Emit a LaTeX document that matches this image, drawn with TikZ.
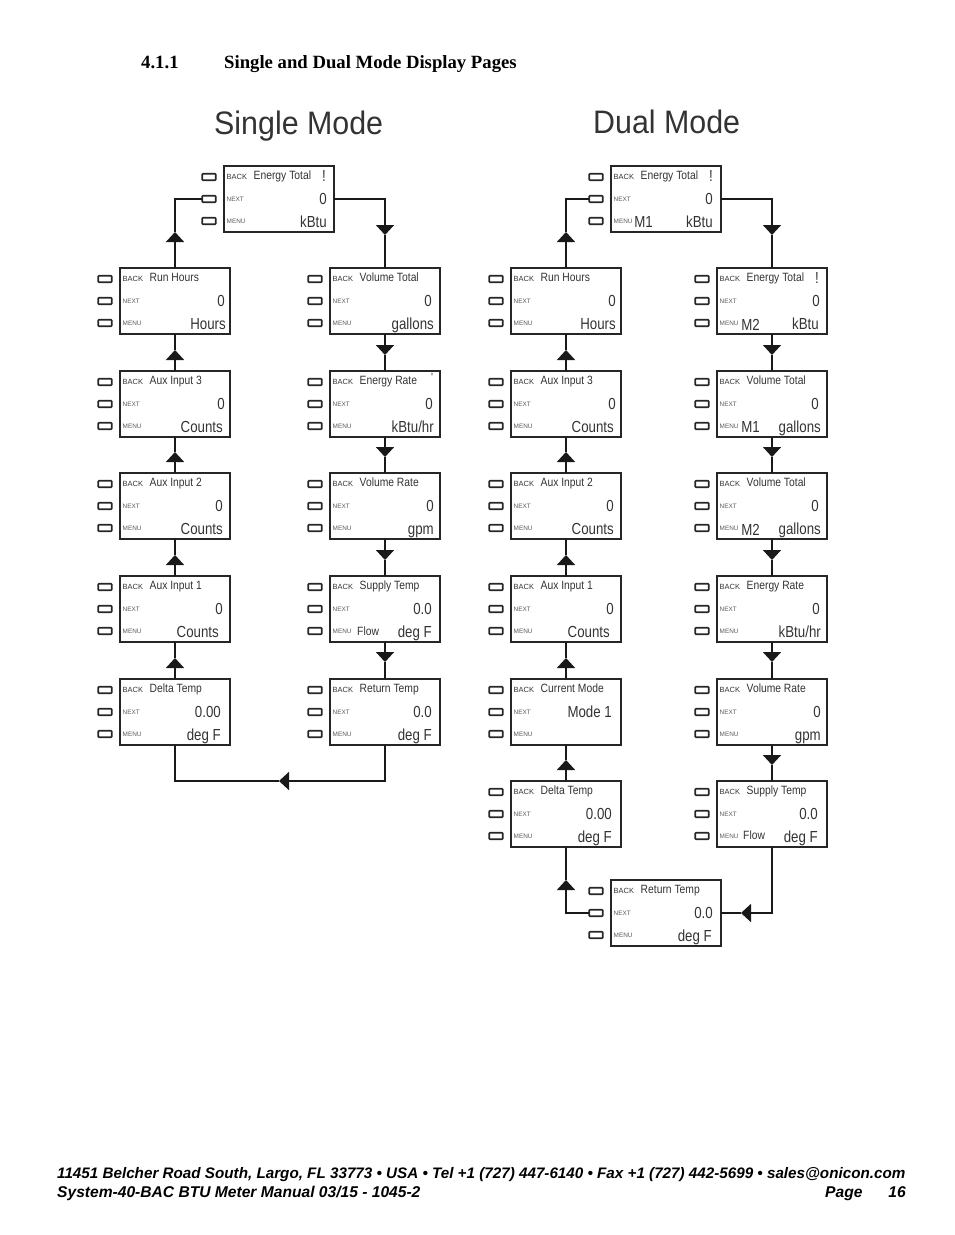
\documentclass[tikz,border=0pt]{standalone}
\usepackage{fontspec}
\usetikzlibrary{arrows.meta}
\setmainfont{Liberation Serif}
\setsansfont{Liberation Sans}
\newfontfamily\lcdfont[FakeStretch=0.86]{Liberation Sans}
\newfontfamily\valfont[FakeStretch=0.83]{Liberation Sans}
\newfontfamily\bigfont[FakeStretch=0.935]{Liberation Sans}
\definecolor{lcdtext}{gray}{0.2}
\definecolor{softtext}{gray}{0.35}
\tikzset{
  x=1pt,y=-1pt,
  panelbox/.style={draw=black!85,line width=1.7pt,minimum width=110pt,minimum height=66pt,inner sep=0pt,outer sep=0pt,anchor=north west},
  btn/.style={draw=black!85,line width=1.6pt,rounded corners=0.8pt,minimum width=13.5pt,minimum height=6.5pt,inner sep=0pt,outer sep=0pt,anchor=center},
  titletext/.style={font=\lcdfont\fontsize{12}{14}\selectfont,text=lcdtext,anchor=base west,inner sep=0pt},
  valuetext/.style={font=\valfont\fontsize{16}{18}\selectfont,text=lcdtext,anchor=base east,inner sep=0pt},
  backtext/.style={font=\sffamily\fontsize{7.5}{9}\selectfont,text=lcdtext,anchor=base west,inner sep=0pt},
  softlabel/.style={font=\sffamily\fontsize{6.4}{8}\selectfont,text=softtext,anchor=base west,inner sep=0pt},
  flow/.style={draw=black!90,line width=1.8pt},
  flowtip/.style={flow,-{Triangle[width=18pt,length=10pt]}},
  headingtext/.style={font=\bfseries\fontsize{18.7}{22}\selectfont,anchor=base west,inner sep=0pt},
  bigtitle/.style={font=\bigfont\fontsize{32.5}{38}\selectfont,text=black!80,anchor=base west,inner sep=0pt},
  foottext/.style={font=\sffamily\bfseries\itshape\fontsize{15.6}{18}\selectfont,inner sep=0pt},
  footlong/.style={font=\sffamily\bfseries\itshape\fontsize{15.22}{18}\selectfont,inner sep=0pt},
}
% name, x, y, title, value, value right x, unit, unit right x
\newcommand\panel[8]{%
  \node[panelbox] (#1) at (#2,#3) {};
  \node[btn] (#1-b1) at ({#2-15},{#3+11}) {};
  \node[btn] (#1-b2) at ({#2-15},{#3+33}) {};
  \node[btn] (#1-b3) at ({#2-15},{#3+55}) {};
  \node[backtext] (#1-back) at ({#2+2.5},{#3+13.2}) {BACK};
  \node[softlabel] (#1-next) at ({#2+2.5},{#3+35.3}) {NEXT};
  \node[softlabel] (#1-menu) at ({#2+2.5},{#3+57.5}) {MENU};
  \node[titletext] (#1-title) at ({#2+29.5},{#3+13.5}) {#4};
  \node[valuetext] (#1-value) at (#6,{#3+38.3}) {#5};
  \node[valuetext] (#1-unit) at (#8,{#3+61.3}) {#7};
}
\begin{document}
\begin{tikzpicture}
\useasboundingbox (0,0) rectangle (954,1235);
\node[headingtext] (hnum) at (141,68) {4.1.1};
\node[headingtext] (htitle) at (224,68) {Single and Dual Mode Display Pages};
\node[bigtitle] (single) at (214,134) {Single Mode};
\node[bigtitle] (dual) at (593,133) {Dual Mode};

% Single mode
\panel{sE}{224}{166}{Energy Total}{0}{327}{kBtu}{327}
\panel{sRH}{120}{268}{Run Hours}{0}{225}{Hours}{226}
\panel{sA3}{120}{371}{Aux Input 3}{0}{225}{Counts}{223}
\panel{sA2}{120}{473}{Aux Input 2}{0}{223}{Counts}{223}
\panel{sA1}{120}{576}{Aux Input 1}{0}{223}{Counts}{219}
\panel{sDT}{120}{679}{Delta Temp}{0.00}{221}{deg F}{221}
\panel{sVT}{330}{268}{Volume Total}{0}{432}{gallons}{434}
\panel{sER}{330}{371}{Energy Rate}{0}{433}{kBtu/hr}{434}
\panel{sVR}{330}{473}{Volume Rate}{0}{434}{gpm}{434}
\panel{sST}{330}{576}{Supply Temp}{0.0}{432}{deg F}{432}
\panel{sRT}{330}{679}{Return Temp}{0.0}{432}{deg F}{432}
\node[valuetext] (sEbang) at (326,181) {!};
\node[titletext] (sERmark) at (431,381) {'};
\node[titletext] (sSTflow) at (357,635) {Flow};

% Dual mode
\panel{dE}{611}{166}{Energy Total}{0}{713}{kBtu}{713}
\panel{dRH}{511}{268}{Run Hours}{0}{616}{Hours}{616}
\panel{dA3}{511}{371}{Aux Input 3}{0}{616}{Counts}{614}
\panel{dA2}{511}{473}{Aux Input 2}{0}{614}{Counts}{614}
\panel{dA1}{511}{576}{Aux Input 1}{0}{614}{Counts}{610}
\panel{dCM}{511}{679}{Current Mode}{Mode 1}{612}{}{612}
\panel{dDT}{511}{781}{Delta Temp}{0.00}{612}{deg F}{612}
\panel{dET}{717}{268}{Energy Total}{0}{820}{kBtu}{819}
\panel{dV1}{717}{371}{Volume Total}{0}{819}{gallons}{821}
\panel{dV2}{717}{473}{Volume Total}{0}{819}{gallons}{821}
\panel{dER}{717}{576}{Energy Rate}{0}{820}{kBtu/hr}{821}
\panel{dVR}{717}{679}{Volume Rate}{0}{821}{gpm}{821}
\panel{dST}{717}{781}{Supply Temp}{0.0}{818}{deg F}{818}
\panel{dRT}{611}{880}{Return Temp}{0.0}{713}{deg F}{712}
\node[valuetext] (dEbang) at (713,181) {!};
\node[valuetext] (dETbang) at (819,283) {!};
\node[valuetext] (dEm) at (653,227) {M1};
\node[valuetext] (dETm) at (760,330) {M2};
\node[valuetext] (dV1m) at (760,432) {M1};
\node[valuetext] (dV2m) at (760,535) {M2};
\node[titletext] (dSTflow) at (743,839) {Flow};

% Tip positions on the connectors
\coordinate (tsA) at (175,232);
\coordinate (tsB) at (175,350);
\coordinate (tsC) at (175,452);
\coordinate (tsD) at (175,555);
\coordinate (tsF) at (175,658);
\coordinate (tsG) at (279,781);
\coordinate (trA) at (385,235);
\coordinate (trB) at (385,355);
\coordinate (trC) at (385,457);
\coordinate (trD) at (385,560);
\coordinate (trE) at (385,662);
\coordinate (tdA) at (566,232);
\coordinate (tdB) at (566,350);
\coordinate (tdC) at (566,452);
\coordinate (tdD) at (566,555);
\coordinate (tdF) at (566,658);
\coordinate (tdG) at (566,760);
\coordinate (tdH) at (566,880);
\coordinate (tuA) at (772,235);
\coordinate (tuB) at (772,355);
\coordinate (tuC) at (772,457);
\coordinate (tuD) at (772,560);
\coordinate (tuE) at (772,662);
\coordinate (tuF) at (772,765);
\coordinate (tuG) at (741,913);

% Single connectors
\draw[flowtip] (sE.east) -| (trA); \draw[flow] (trA) -- (sVT.north);
\draw[flowtip] (sVT.south) -- (trB); \draw[flow] (trB) -- (sER.north);
\draw[flowtip] (sER.south) -- (trC); \draw[flow] (trC) -- (sVR.north);
\draw[flowtip] (sVR.south) -- (trD); \draw[flow] (trD) -- (sST.north);
\draw[flowtip] (sST.south) -- (trE); \draw[flow] (trE) -- (sRT.north);
\draw[flowtip] (sRT.south) |- (tsG); \draw[flow] (tsG) -| (sDT.south);
\draw[flowtip] (sDT.north) -- (tsF); \draw[flow] (tsF) -- (sA1.south);
\draw[flowtip] (sA1.north) -- (tsD); \draw[flow] (tsD) -- (sA2.south);
\draw[flowtip] (sA2.north) -- (tsC); \draw[flow] (tsC) -- (sA3.south);
\draw[flowtip] (sA3.north) -- (tsB); \draw[flow] (tsB) -- (sRH.south);
\draw[flowtip] (sRH.north) -- (tsA); \draw[flow] (tsA) |- (sE-b2.west);

% Dual connectors
\draw[flowtip] (dE.east) -| (tuA); \draw[flow] (tuA) -- (dET.north);
\draw[flowtip] (dET.south) -- (tuB); \draw[flow] (tuB) -- (dV1.north);
\draw[flowtip] (dV1.south) -- (tuC); \draw[flow] (tuC) -- (dV2.north);
\draw[flowtip] (dV2.south) -- (tuD); \draw[flow] (tuD) -- (dER.north);
\draw[flowtip] (dER.south) -- (tuE); \draw[flow] (tuE) -- (dVR.north);
\draw[flowtip] (dVR.south) -- (tuF); \draw[flow] (tuF) -- (dST.north);
\draw[flowtip] (dST.south) |- (tuG); \draw[flow] (tuG) -- (dRT.east);
\draw[flowtip] (dRT-b2.west) -| (tdH); \draw[flow] (tdH) -- (dDT.south);
\draw[flowtip] (dDT.north) -- (tdG); \draw[flow] (tdG) -- (dCM.south);
\draw[flowtip] (dCM.north) -- (tdF); \draw[flow] (tdF) -- (dA1.south);
\draw[flowtip] (dA1.north) -- (tdD); \draw[flow] (tdD) -- (dA2.south);
\draw[flowtip] (dA2.north) -- (tdC); \draw[flow] (tdC) -- (dA3.south);
\draw[flowtip] (dA3.north) -- (tdB); \draw[flow] (tdB) -- (dRH.south);
\draw[flowtip] (dRH.north) -- (tdA); \draw[flow] (tdA) |- (dE-b2.west);

% Footer
\node[footlong,anchor=base west] (f1) at (57,1178) {11451 Belcher Road South, Largo, FL 33773 • USA • Tel +1 (727) 447-6140 • Fax +1 (727) 442-5699 • sales@onicon.com};
\node[foottext,anchor=base west] (f2) at (57,1197) {System-40-BAC BTU Meter Manual 03/15 - 1045-2};
\node[foottext,anchor=base west] (f3) at (825,1197) {Page};
\node[foottext,anchor=base east] (f4) at (906,1197) {16};
\end{tikzpicture}
\end{document}
